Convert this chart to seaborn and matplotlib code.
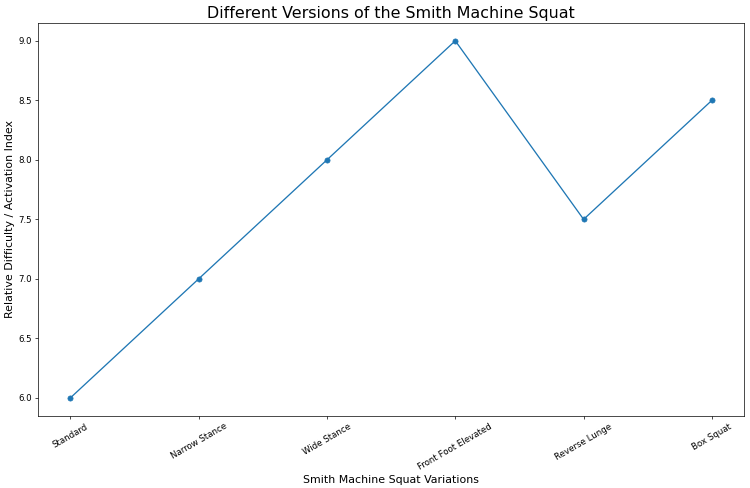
import numpy as np
import pandas as pd
import matplotlib
matplotlib.use('Agg')
import matplotlib.pyplot as plt
import seaborn as sns

variations = ['Standard', 'Narrow Stance', 'Wide Stance', 'Front Foot Elevated', 'Reverse Lunge', 'Box Squat']
difficulty = [6.0, 7.0, 8.0, 9.0, 7.5, 8.5]

df = pd.DataFrame({'Variation': variations, 'Difficulty': difficulty})

# plain matplotlib look, drawn big and scaled down
fig, ax = plt.subplots(figsize=(12, 7.808), dpi=62.5)
sns.lineplot(data=df, x='Variation', y='Difficulty', marker='o', color='#1f77b4',
             markeredgecolor='#1f77b4', markersize=6, linewidth=1.5, sort=False, ax=ax)

ax.set_title('Different Versions of the Smith Machine Squat', fontsize=18.3)
ax.set_xlabel('Smith Machine Squat Variations', fontsize=12.7)
ax.set_ylabel('Relative Difficulty / Activation Index', fontsize=12.7)
plt.setp(ax.get_xticklabels(), rotation=30, ha='center')

fig.subplots_adjust(left=0.051, right=0.992, top=0.953, bottom=0.148)
fig.savefig('out.png', dpi=62.5)
